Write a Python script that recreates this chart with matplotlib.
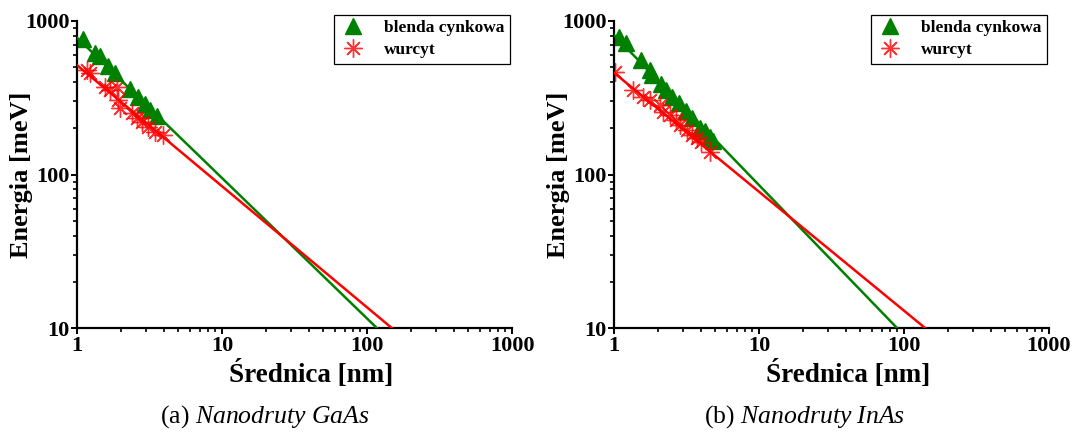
import matplotlib
matplotlib.use("Agg")
import matplotlib.pyplot as plt
import matplotlib.ticker as ticker
import numpy as np

plt.rcParams["font.family"] = ["Liberation Serif", "DejaVu Serif"]
plt.rcParams["mathtext.fontset"] = "custom"
plt.rcParams["mathtext.rm"] = "Liberation Serif"
plt.rcParams["mathtext.it"] = "Liberation Serif:italic"

# GaAs - blenda cynkowa (zb) i wurcyt (wz)
gaas_zb_d = [1.10, 1.33, 1.44, 1.64, 1.83, 2.32, 2.63, 2.94, 3.19, 3.56]
gaas_zb_e = [760, 620, 590, 510, 460, 360, 320, 290, 265, 240]
gaas_wz_d = [1.17, 1.23, 1.56, 1.69, 1.88, 1.93, 1.98, 2.38, 2.58, 2.80, 3.10, 3.45, 3.94]
gaas_wz_e = [480, 456, 373, 355, 373, 305, 270, 251, 232, 221, 205, 190, 181]

# InAs
inas_zb_d = [1.08, 1.21, 1.54, 1.77, 1.83, 2.11, 2.28, 2.51, 2.80, 3.12, 3.43, 3.91, 4.23, 4.58, 4.80]
inas_zb_e = [787, 724, 561, 480, 445, 389, 355, 320, 292, 259, 233, 201, 192, 175, 165]
inas_wz_d = [1.02, 1.36, 1.59, 1.77, 2.08, 2.19, 2.43, 2.67, 2.85, 3.17, 3.43, 3.72, 4.01, 4.58]
inas_wz_e = [465, 355, 321, 306, 284, 257, 244, 227, 210, 195, 181, 172, 164, 141]

# dopasowanie E = A * d^(-n)
gaas_zb_fit = (780, 0.915)
gaas_wz_fit = (516, 0.789)
inas_zb_fit = (811, 0.978)
inas_wz_fit = (460, 0.775)

green = "#008000"
red = "#ff0000"


def draw_panel(ax, zb_d, zb_e, wz_d, wz_e, zb_fit, wz_fit):
    ax.plot(zb_d, zb_e, linestyle="none", marker="^", markersize=11.5,
            color=green, label="blenda cynkowa", zorder=2)
    ax.plot(wz_d, wz_e, linestyle="none", marker=(8, 2, 0), markersize=13,
            markeredgewidth=1.0, color=red, alpha=0.8, label="wurcyt", zorder=2)

    d = np.logspace(0, 3, 200)
    ax.plot(d, zb_fit[0] * d ** (-zb_fit[1]), color=green, lw=1.8, zorder=3)
    ax.plot(d, wz_fit[0] * d ** (-wz_fit[1]), color=red, lw=1.8, zorder=3)

    ax.set_xscale("log")
    ax.set_yscale("log")
    ax.set_xlim(1, 1000)
    ax.set_ylim(10, 1000)

    fmt = ticker.FuncFormatter(lambda v, p: f"{v:g}")
    ax.xaxis.set_major_formatter(fmt)
    ax.yaxis.set_major_formatter(fmt)
    ax.xaxis.set_minor_formatter(ticker.NullFormatter())
    ax.yaxis.set_minor_formatter(ticker.NullFormatter())

    for s in ["top", "right"]:
        ax.spines[s].set_visible(False)
    for s in ["left", "bottom"]:
        ax.spines[s].set_linewidth(1.6)

    ax.tick_params(which="major", direction="out", length=4.5, width=1.4,
                   labelsize=16, pad=1)
    ax.tick_params(which="minor", direction="out", length=2.8, width=1.2)
    for lab in ax.get_xticklabels() + ax.get_yticklabels():
        lab.set_fontweight("bold")

    ax.set_xlabel("Średnica [nm]", fontsize=19.5, fontweight="bold")
    ax.set_ylabel("Energia [meV]", fontsize=19, fontweight="bold")
    ax.xaxis.set_label_coords(0.538, -0.105)
    ax.yaxis.set_label_coords(-0.102, 0.5)

    ax.legend(loc="upper right", bbox_to_anchor=(0.995, 1.02), borderaxespad=0,
              frameon=True, fancybox=False, edgecolor="black", framealpha=1,
              prop={"family": "Liberation Serif", "weight": "bold", "size": 12.5},
              handlelength=1.6, handletextpad=1.0, borderpad=0.3,
              labelspacing=0.35)
    ax.get_legend().get_frame().set_linewidth(0.9)


fig = plt.figure(figsize=(10.76, 4.32), dpi=100)
ax1 = fig.add_axes([77 / 1076, 104 / 432, 435 / 1076, 307 / 432])
ax2 = fig.add_axes([614 / 1076, 104 / 432, 435 / 1076, 307 / 432])

draw_panel(ax1, gaas_zb_d, gaas_zb_e, gaas_wz_d, gaas_wz_e, gaas_zb_fit, gaas_wz_fit)
draw_panel(ax2, inas_zb_d, inas_zb_e, inas_wz_d, inas_wz_e, inas_zb_fit, inas_wz_fit)

fig.text(265 / 1076, 9 / 432, r"(a) $\it{Nanodruty\ GaAs}$", ha="center",
         va="baseline", fontsize=18.5)
fig.text(805 / 1076, 9 / 432, r"(b) $\it{Nanodruty\ InAs}$", ha="center",
         va="baseline", fontsize=18.5)

fig.savefig("out.png", dpi=100)
